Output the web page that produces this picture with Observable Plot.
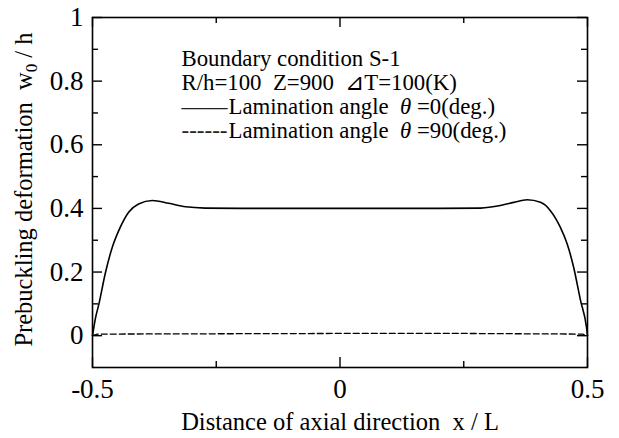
<!DOCTYPE html>
<html><head><meta charset="utf-8">
<script src="https://cdn.jsdelivr.net/npm/d3@7"></script>
<script src="https://cdn.jsdelivr.net/npm/@observablehq/plot@0.6"></script>
<style>body{margin:0;background:#fff;} svg{white-space:pre;}</style>
</head><body><div id="chart"></div>
<script>
// Solid curve: lamination angle 0 deg
const xSolid = [-0.5, -0.494, -0.487, -0.474, -0.46, -0.447, -0.427, -0.407, -0.379, -0.346, -0.312, -0.272, -0.2, 0, 0.2, 0.284, 0.324, 0.351, 0.378, 0.405, 0.425, 0.445, 0.459, 0.472, 0.486, 0.498, 0.5];
const ySolid = [0, 0.055, 0.1, 0.197, 0.278, 0.33, 0.388, 0.414, 0.425, 0.416, 0.405, 0.401, 0.40, 0.40, 0.40, 0.401, 0.409, 0.419, 0.427, 0.419, 0.393, 0.341, 0.288, 0.215, 0.110, 0.026, 0];
// Dashed curve: lamination angle 90 deg
const xDashed = [-0.5, -0.49, -0.25, 0, 0.25, 0.49, 0.5];
const yDashed = [0, 0.005, 0.006, 0.007, 0.007, 0.005, 0];

const xMajorTicks = [-0.5, 0, 0.5];
const xMinorTicks = [-0.25, 0.25];
const xTickLabels = ["-0.5", "0", "0.5"];
const yMajorTicks = [0, 0.2, 0.4, 0.6, 0.8, 1];
const yMinorTicks = [0.1, 0.3, 0.5, 0.7, 0.9];
const yTickLabels = ["0", "0.2", "0.4", "0.6", "0.8", "1"];

const xLabel = "Distance of axial direction  x / L";
const yLabel = "Prebuckling deformation  w0 / h";
const legendHeader = ["Boundary condition S-1", "R/h=100  Z=900  \u22BFT=100(K)"];
const seriesNames = ["Lamination angle  \u03B8 =0(deg.)", "Lamination angle  \u03B8 =90(deg.)"];
const swatches = ["\u2014\u2014", "------"];

const solid = xSolid.map((x, i) => ({x, y: ySolid[i]}));
const dashed = xDashed.map((x, i) => ({x, y: yDashed[i]}));

const W = 619, H = 438, mT = 17, mR = 32, mB = 71, mL = 92;
const fw = W - mL - mR, fh = H - mT - mB;
const tickStyle = {stroke: "black", strokeWidth: 1.4};
const xTicks = (ticks, len) => [
  Plot.ruleX(ticks, {x: d => d, insetTop: fh - len, ...tickStyle}),
  Plot.ruleX(ticks, {x: d => d, insetBottom: fh - len, ...tickStyle})
];
const yTicks = (ticks, len) => [
  Plot.ruleY(ticks, {y: d => d, insetRight: fw - len, ...tickStyle}),
  Plot.ruleY(ticks, {y: d => d, insetLeft: fw - len, ...tickStyle})
];

const legendFont = 22.8;
const chart = Plot.plot({
  width: W, height: H,
  marginTop: mT, marginRight: mR, marginBottom: mB, marginLeft: mL,
  x: {domain: [-0.5, 0.5]},
  y: {domain: [-0.1, 1]},
  style: {fontFamily: "'Liberation Serif', 'Times New Roman', serif", background: "white", color: "black"},
  marks: [
    Plot.line(solid, {x: "x", y: "y", stroke: "black", strokeWidth: 1.6, curve: "monotone-x"}),
    Plot.line(dashed, {x: "x", y: "y", stroke: "black", strokeWidth: 1.3, strokeDasharray: "6,3"}),
    ...xTicks(xMajorTicks, 10),
    ...xTicks(xMinorTicks, 6),
    ...yTicks(yMajorTicks, 10),
    ...yTicks(yMinorTicks, 6),
    Plot.frame({stroke: "black", strokeWidth: 1.6}),
    Plot.axisX({anchor: "bottom", ticks: xMajorTicks, tickSize: 0, tickPadding: 11, fontSize: 27,
      tickFormat: d => xTickLabels[xMajorTicks.indexOf(d)], label: null, fill: "black"}),
    Plot.axisY({anchor: "left", ticks: yMajorTicks, tickSize: 0, tickPadding: 9, fontSize: 27,
      tickFormat: d => yTickLabels[yMajorTicks.indexOf(d)], label: null, fill: "black"}),
    Plot.text([xLabel], {text: d => d, frameAnchor: "bottom", dy: 55, fontSize: 24.5, lineAnchor: "middle", textAnchor: "middle", fill: "black"}),
    Plot.text([yLabel], {text: d => d, frameAnchor: "left", rotate: -90, dx: -68, dy: -3, fontSize: 24.5, lineAnchor: "middle", textAnchor: "middle", fill: "black"}),
    Plot.text([legendHeader[0]], {text: d => d, frameAnchor: "top-left", dx: 89, dy: 41, textAnchor: "start", lineAnchor: "middle", fontSize: legendFont, fill: "black"}),
    Plot.text([legendHeader[1]], {text: d => d, frameAnchor: "top-left", dx: 89, dy: 65, textAnchor: "start", lineAnchor: "middle", fontSize: legendFont, fill: "black"}),
    Plot.text([swatches[0]], {text: d => d, frameAnchor: "top-left", dx: 89, dy: 89, textAnchor: "start", lineAnchor: "middle", fontSize: 23, fill: "#222"}),
    Plot.text([swatches[1]], {text: d => d, frameAnchor: "top-left", dx: 89, dy: 113, textAnchor: "start", lineAnchor: "middle", fontSize: 23, fill: "#222"}),
    Plot.text([seriesNames[0]], {text: d => d, frameAnchor: "top-left", dx: 136, dy: 89, textAnchor: "start", lineAnchor: "middle", fontSize: legendFont, fill: "black"}),
    Plot.text([seriesNames[1]], {text: d => d, frameAnchor: "top-left", dx: 136, dy: 113, textAnchor: "start", lineAnchor: "middle", fontSize: legendFont, fill: "black"})
  ]
});
document.getElementById("chart").appendChild(chart);

// rich text: italic theta, subscript 0
const NS = "http://www.w3.org/2000/svg";
function rebuild(node, parts) {
  node.textContent = "";
  parts.forEach(p => {
    const t = document.createElementNS(NS, "tspan");
    t.textContent = p.text;
    if (p.italic) t.setAttribute("font-style", "italic");
    if (p.size) t.setAttribute("font-size", p.size);
    if (p.dy) t.setAttribute("dy", p.dy);
    node.appendChild(t);
  });
}
d3.select(chart).selectAll("text").each(function() {
  const s = this.textContent;
  if (s.includes("\u03B8")) {
    const [a, b] = s.split("\u03B8");
    rebuild(this, [{text: a}, {text: "\u03B8", italic: true}, {text: b}]);
  } else if (s === yLabel) {
    const i = s.indexOf("w0");
    rebuild(this, [{text: s.slice(0, i + 1)}, {text: "0", size: "70%", dy: "5"}, {text: s.slice(i + 2), dy: "-5"}]);
  }
});
</script></body></html>
